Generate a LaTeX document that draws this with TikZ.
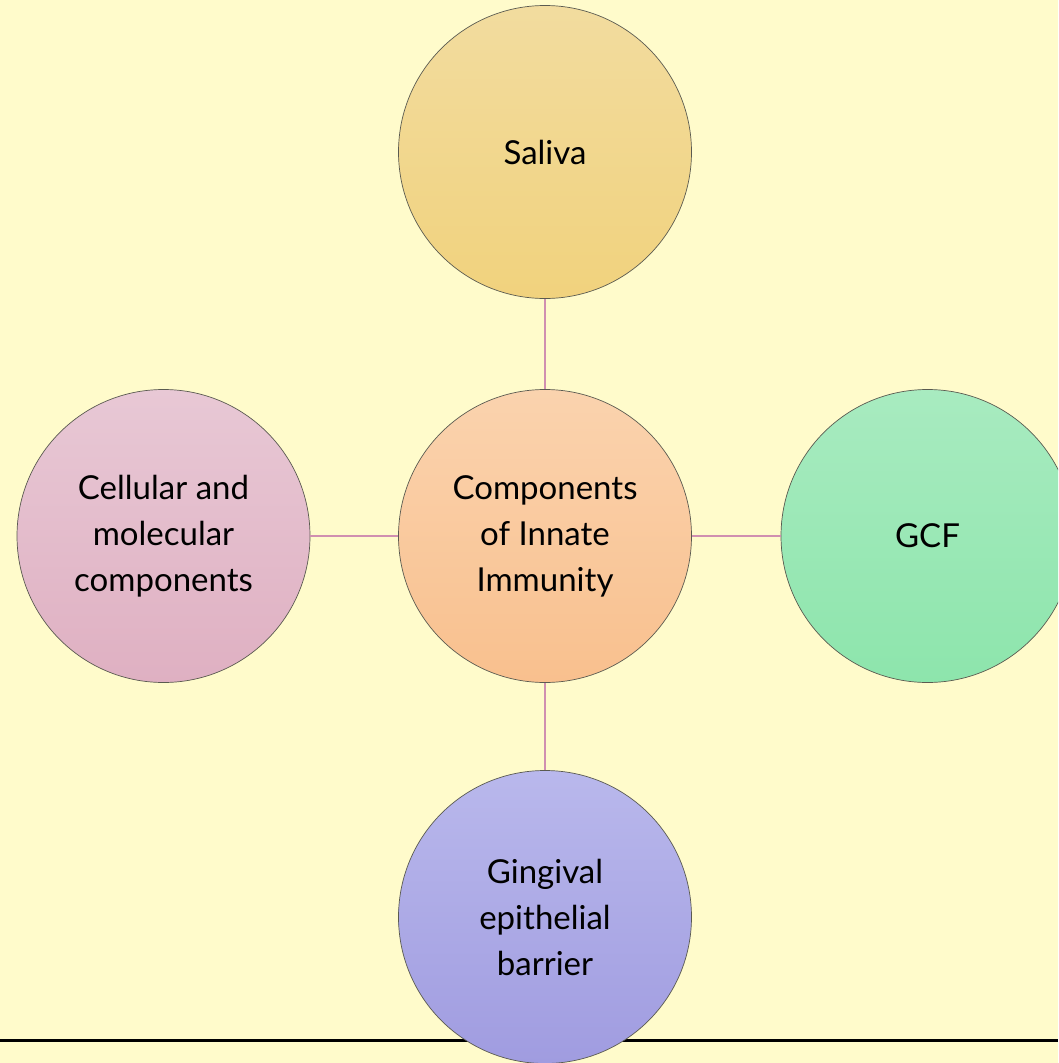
\documentclass[tikz,border=0pt]{standalone}
\usepackage{fontspec}
\setmainfont{Lato}
\definecolor{bg}{HTML}{FFFBCB}
\definecolor{link}{HTML}{D08FB0}
\definecolor{rim}{HTML}{5A5A50}
\begin{document}
\begin{tikzpicture}[x=1pt,y=-1pt,
  bubble/.style={circle,draw=rim,line width=0.7pt,minimum size=293pt,inner sep=0pt,
    align=center,font=\fontsize{33}{46}\selectfont,text=black},
  conn/.style={draw=link,line width=2.2pt}]
\useasboundingbox (0,0) rectangle (1058,1063);
\clip (0,0) rectangle (1058,1063);
\fill[bg] (0,0) rectangle (1058,1063);
\coordinate (la) at (0,1040);
\coordinate (lb) at (1058,1040);
\draw[line width=3pt,black] (la) -- (lb);
\node[bubble,top color={rgb,255:red,242;green,220;blue,159},bottom color={rgb,255:red,241;green,210;blue,125}] (sal) at (545,152) {Saliva};
\node[bubble,top color={rgb,255:red,232;green,200;blue,213},bottom color={rgb,255:red,223;green,176;blue,194}] (cel) at (163.5,536) {Cellular and\\molecular\\components};
\node[bubble,top color={rgb,255:red,168;green,235;blue,192},bottom color={rgb,255:red,141;green,229;blue,172}] (gcf) at (927.5,536) {GCF};
\node[bubble,top color={rgb,255:red,185;green,184;blue,236},bottom color={rgb,255:red,160;green,156;blue,224}] (gin) at (545,917) {Gingival\\epithelial\\barrier};
\node[bubble,top color={rgb,255:red,250;green,211;blue,174},bottom color={rgb,255:red,249;green,192;blue,142}] (hub) at (545,536) {Components\\of Innate\\Immunity};
\draw[conn] (hub) -- (sal);
\draw[conn] (hub) -- (cel);
\draw[conn] (hub) -- (gcf);
\draw[conn] (hub) -- (gin);
\end{tikzpicture}
\end{document}
